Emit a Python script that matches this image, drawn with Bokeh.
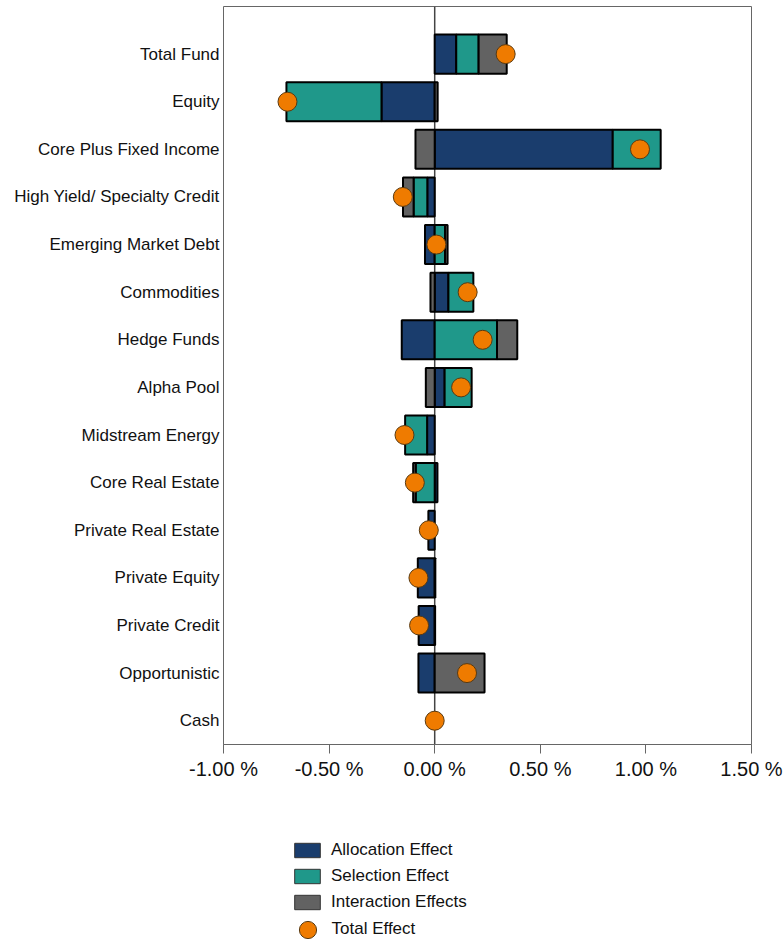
from bokeh.plotting import figure
from bokeh.layouts import column
from bokeh.models import (Range1d, FixedTicker, CustomJSTickFormatter, Span,
                          ColumnDataSource, Legend, LegendItem)
from bokeh.embed import file_html
from bokeh.resources import INLINE

categories = ["Total Fund", "Equity", "Core Plus Fixed Income",
              "High Yield/ Specialty Credit", "Emerging Market Debt",
              "Commodities", "Hedge Funds", "Alpha Pool", "Midstream Energy",
              "Core Real Estate", "Private Real Estate", "Private Equity",
              "Private Credit", "Opportunistic", "Cash"]
allocation = [0.102, -0.252, 0.843, -0.035, -0.046, 0.065, -0.156, 0.047,
              -0.036, 0.013, -0.030, -0.080, -0.076, -0.077, 0.0]
selection = [0.106, -0.450, 0.227, -0.065, 0.049, 0.118, 0.295, 0.128,
             -0.104, -0.090, 0.0, 0.003, 0.002, 0.0, 0.0]
interaction = [0.133, 0.014, -0.091, -0.050, 0.012, -0.020, 0.096, -0.042,
               0.0, -0.012, 0.0, 0.0, 0.0, 0.236, 0.0]
total = [0.336, -0.697, 0.972, -0.151, 0.008, 0.156, 0.227, 0.125, -0.143,
         -0.094, -0.028, -0.077, -0.074, 0.153, 0.0]
tick_values = [-1.0, -0.5, 0.0, 0.5, 1.0, 1.5]
series_names = ["Allocation Effect", "Selection Effect", "Interaction Effects"]
total_name = "Total Effect"

colors = ["#1a3d6d", "#1f988a", "#626262"]
orange = "#ef7b00"
dot_line = "#5a3a10"
FONT = "Liberation Sans"

ys = list(range(len(categories)))

# diverging stacking (zero segments are skipped)
pos_base = [0.0] * len(categories)
neg_base = [0.0] * len(categories)
stacks = []
for series in (allocation, selection, interaction):
    yy, left, right = [], [], []
    for i, v in enumerate(series):
        if v > 0:
            yy.append(i); left.append(pos_base[i]); right.append(pos_base[i] + v)
            pos_base[i] += v
        elif v < 0:
            yy.append(i); right.append(neg_base[i]); left.append(neg_base[i] + v)
            neg_base[i] += v
    stacks.append((yy, left, right))

p = figure(width=783, height=790, output_backend="svg", toolbar_location=None,
           x_range=Range1d(-1.0, 1.5), y_range=Range1d(14.5, -1.0),
           min_border_left=223, min_border_right=32, min_border_top=6,
           min_border_bottom=46)
p.grid.visible = False
p.outline_line_color = "#666666"
p.outline_line_width = 1

zero = Span(location=0, dimension="height", line_color="#444444",
            line_width=1.5, level="underlay")
p.add_layout(zero)

for (yy, left, right), c in zip(stacks, colors):
    src = ColumnDataSource(dict(y=yy, left=left, right=right))
    p.hbar(y="y", left="left", right="right", height=0.82, source=src,
           fill_color=c, line_color="black", line_width=2)

dot_src = ColumnDataSource(dict(y=ys, x=total))
p.scatter(x="x", y="y", source=dot_src, size=19, fill_color=orange,
          line_color=dot_line, line_width=1)

xa = p.xaxis[0]
xa.ticker = FixedTicker(ticks=tick_values)
xa.formatter = CustomJSTickFormatter(code="return tick.toFixed(2) + ' %';")
xa.major_label_text_font = FONT
xa.major_label_text_font_size = "20px"
xa.major_label_text_color = "#111111"
xa.axis_line_color = "#666666"
xa.major_tick_line_color = "#666666"
xa.major_tick_out = 9
xa.major_tick_in = 0
xa.minor_tick_line_color = None
xa.major_label_standoff = 4

ya = p.yaxis[0]
ya.ticker = FixedTicker(ticks=ys)
ya.major_label_overrides = {i: c for i, c in enumerate(categories)}
ya.major_label_text_font = FONT
ya.major_label_text_font_size = "17px"
ya.major_label_text_color = "#111111"
ya.axis_line_color = None
ya.major_tick_line_color = None
ya.minor_tick_line_color = None
ya.major_tick_out = 0
ya.major_tick_in = 0
ya.major_label_standoff = 4

# legend figure (holds off-screen proxy glyphs only for the legend swatches)
q = figure(width=783, height=149, output_backend="svg", toolbar_location=None,
           x_range=Range1d(0, 1), y_range=Range1d(0, 1),
           x_axis_type=None, y_axis_type=None,
           min_border_left=0, min_border_right=0, min_border_top=0,
           min_border_bottom=0)
q.grid.visible = False
q.outline_line_color = None

bar_proxies = []
for c in colors:
    bar_proxies.append(q.hbar(y=[-10], left=[-10], right=[-9], height=0.8,
                              fill_color=c, line_color="#333333",
                              line_width=1))
dot_proxy = q.scatter(x=[-10], y=[-10], size=19, fill_color=orange,
                      line_color=dot_line, line_width=1)

common = dict(padding=0, margin=0, border_line_color=None,
              background_fill_alpha=0, label_height=18,
              label_text_font=FONT, label_text_font_size="17px",
              label_text_color="#111111")

legend_bars = Legend(items=[LegendItem(label=n, renderers=[r])
                            for n, r in zip(series_names, bar_proxies)],
                     location=(68, 27), glyph_width=32, glyph_height=18,
                     spacing=6, label_standoff=8, **common)
q.add_layout(legend_bars, "center")

legend_dot = Legend(items=[LegendItem(label=total_name, renderers=[dot_proxy])],
                    location=(62.5, -11.5), glyph_width=43, glyph_height=43,
                    spacing=0, label_standoff=3, **common)
q.add_layout(legend_dot, "center")

layout = column(p, q, spacing=0)
open("out.html", "w").write(file_html(layout, INLINE))
